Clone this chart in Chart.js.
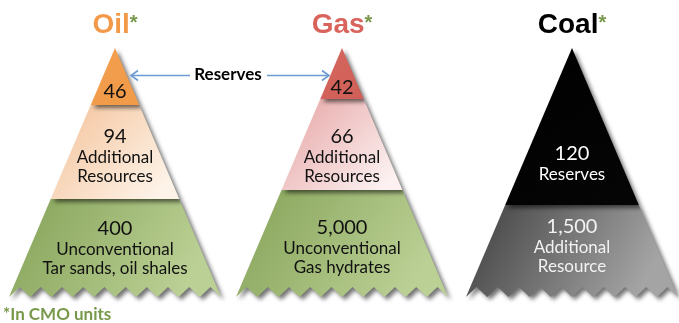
<!DOCTYPE html>
<html>
<head>
<meta charset="utf-8">
<script src="https://cdn.jsdelivr.net/npm/chart.js@4.4.1/dist/chart.umd.min.js"></script>
<style>
  html, body { margin: 0; padding: 0; background: #ffffff; }
  canvas { display: block; }
</style>
</head>
<body>
<canvas id="c" width="679" height="323"></canvas>
<script>
// Fossil fuel resources, in CMO units
const categories = ['Oil', 'Gas', 'Coal'];
const oilValues = [46, 94, 400];
const gasValues = [42, 66, 5000];
const coalValues = [120, 1500];
const oilNotes = [[], ['Additional', 'Resources'], ['Unconventional', 'Tar sands, oil shales']];
const gasNotes = [[], ['Additional', 'Resources'], ['Unconventional', 'Gas hydrates']];
const coalNotes = [['Reserves'], ['Additional', 'Resource']];
const arrowLabel = 'Reserves';
const unitNote = '*In CMO units';

const seriesValues = [oilValues, gasValues, coalValues];
const seriesNotes = [oilNotes, gasNotes, coalNotes];

// Layout in axis units (x: 0..679, y: 0..323 downward)
const APEX_Y = 48, BASE_Y = 297, HALF_BASE = 106, TEETH = 10, TOOTH_H = 10;
const peaks = [
  { cx: 115, cuts: [105, 199], textY: [92, 137, 229] },
  { cx: 342, cuts: [99, 190],  textY: [88, 137, 228] },
  { cx: 572, cuts: [205],      textY: [154, 227] }
];

// Fill styles per tier: [topColor, bottomColor, textColor]
const tierStyles = [
  [['#f3a04f', '#f19a48', '#111'], ['#f4c198', '#fdf3e8', '#111'], ['#84a257', '#bbd095', '#111']],
  [['#d6675e', '#cf5f57', '#111'], ['#e6a2a2', '#fcf0f0', '#111'], ['#84a257', '#bbd095', '#111']],
  [['#000000', '#050505', '#ffffff'], ['#3e3e3e', '#a4a4a4', '#f2f2f2']]
];
const titleColors = ['#f39a4a', '#d9645c', '#000000'];
const starColor = '#78984a';

const pyramidPlugin = {
  id: 'pyramids',
  afterDraw(chart) {
    const ctx = chart.ctx;
    const xs = chart.scales.x, ys = chart.scales.y;
    const px = v => xs.getPixelForValue(v);
    const py = v => ys.getPixelForValue(v);
    const halfAt = y => HALF_BASE * (y - APEX_Y) / (BASE_Y - APEX_Y);

    categories.forEach((name, i) => {
      const pk = peaks[i];
      const bounds = [APEX_Y, ...pk.cuts, BASE_Y];
      const nTiers = bounds.length - 1;

      // draw from the base tier upward so each upper tier shadows the one below
      for (let t = nTiers - 1; t >= 0; t--) {
        const y0 = bounds[t], y1 = bounds[t + 1];
        const h0 = halfAt(y0), h1 = halfAt(y1);
        ctx.save();
        ctx.beginPath();
        if (t === 0) {
          ctx.moveTo(px(pk.cx), py(y0));
        } else {
          ctx.moveTo(px(pk.cx - h0), py(y0));
          ctx.lineTo(px(pk.cx + h0), py(y0));
        }
        ctx.lineTo(px(pk.cx + h1), py(y1));
        if (t === nTiers - 1) {
          const w = (2 * h1) / TEETH;
          for (let k = TEETH; k > 0; k--) {
            ctx.lineTo(px(pk.cx - h1 + (k - 0.5) * w), py(y1 - TOOTH_H));
            ctx.lineTo(px(pk.cx - h1 + (k - 1) * w), py(y1));
          }
        } else {
          ctx.lineTo(px(pk.cx - h1), py(y1));
        }
        ctx.closePath();
        const st = tierStyles[i][t];
        const g = ctx.createLinearGradient(px(pk.cx - h1), py(y0), px(pk.cx + h1 * 0.6), py(y1));
        g.addColorStop(0, st[0]);
        g.addColorStop(1, st[1]);
        ctx.fillStyle = g;
        ctx.shadowColor = 'rgba(0,0,0,0.55)';
        ctx.shadowBlur = 4;
        ctx.shadowOffsetX = 3;
        ctx.shadowOffsetY = 3;
        ctx.fill();
        ctx.restore();
      }

      // tier labels: value followed by its description lines
      ctx.save();
      ctx.textAlign = 'center';
      ctx.textBaseline = 'middle';
      for (let t = 0; t < nTiers; t++) {
        const st = tierStyles[i][t];
        const ty = pk.textY[t];
        ctx.fillStyle = st[2];
        ctx.font = '20px Lato';
        ctx.fillText(seriesValues[i][t].toLocaleString('en-US'), px(pk.cx), py(ty));
        ctx.font = '17px Lato';
        seriesNotes[i][t].forEach((line, j) => {
          ctx.fillText(line, px(pk.cx), py(ty + 20.5 + j * 19.5));
        });
      }
      ctx.restore();

      // title with asterisk
      ctx.save();
      ctx.textBaseline = 'alphabetic';
      ctx.font = 'bold 28px "Liberation Sans"';
      const tw = ctx.measureText(name).width;
      ctx.font = 'bold 20px "Liberation Sans"';
      const sw = ctx.measureText('*').width;
      const left = px(pk.cx) - (tw + sw) / 2;
      ctx.font = 'bold 28px "Liberation Sans"';
      ctx.fillStyle = titleColors[i];
      ctx.fillText(name, left, py(33));
      ctx.font = 'bold 20px "Liberation Sans"';
      ctx.fillStyle = starColor;
      ctx.fillText('*', left + tw, py(29));
      ctx.restore();
    });

    // "Reserves" callout with arrows to the oil and gas peaks
    ctx.save();
    ctx.font = 'bold 17px Lato';
    ctx.textAlign = 'center';
    ctx.textBaseline = 'middle';
    ctx.fillStyle = '#000';
    ctx.fillText(arrowLabel, px(228), py(75));
    ctx.strokeStyle = '#6c9bd2';
    ctx.lineWidth = 1.6;
    const arrow = (x0, x1, y) => {
      const dir = Math.sign(x1 - x0);
      ctx.beginPath();
      ctx.moveTo(px(x0), py(y));
      ctx.lineTo(px(x1) - dir * 1, py(y));
      ctx.stroke();
      ctx.beginPath();
      ctx.moveTo(px(x1) - dir * 7, py(y) - 5);
      ctx.lineTo(px(x1), py(y));
      ctx.lineTo(px(x1) - dir * 7, py(y) + 5);
      ctx.stroke();
    };
    arrow(190, 131, 75.5);
    arrow(267, 329, 75.5);
    ctx.restore();

    // footnote
    ctx.save();
    ctx.font = 'bold 17px Lato';
    ctx.textBaseline = 'middle';
    ctx.fillStyle = starColor;
    ctx.fillText(unitNote, px(3), py(315));
    ctx.restore();
  }
};

new Chart(document.getElementById('c'), {
  type: 'scatter',
  data: { datasets: [{ data: [] }] },
  options: {
    responsive: false,
    animation: false,
    layout: { padding: 0 },
    scales: {
      x: { type: 'linear', min: 0, max: 679, display: false },
      y: { type: 'linear', min: 0, max: 323, reverse: true, display: false }
    },
    plugins: { legend: { display: false }, tooltip: { enabled: false } }
  },
  plugins: [pyramidPlugin]
});
</script>
</body>
</html>
